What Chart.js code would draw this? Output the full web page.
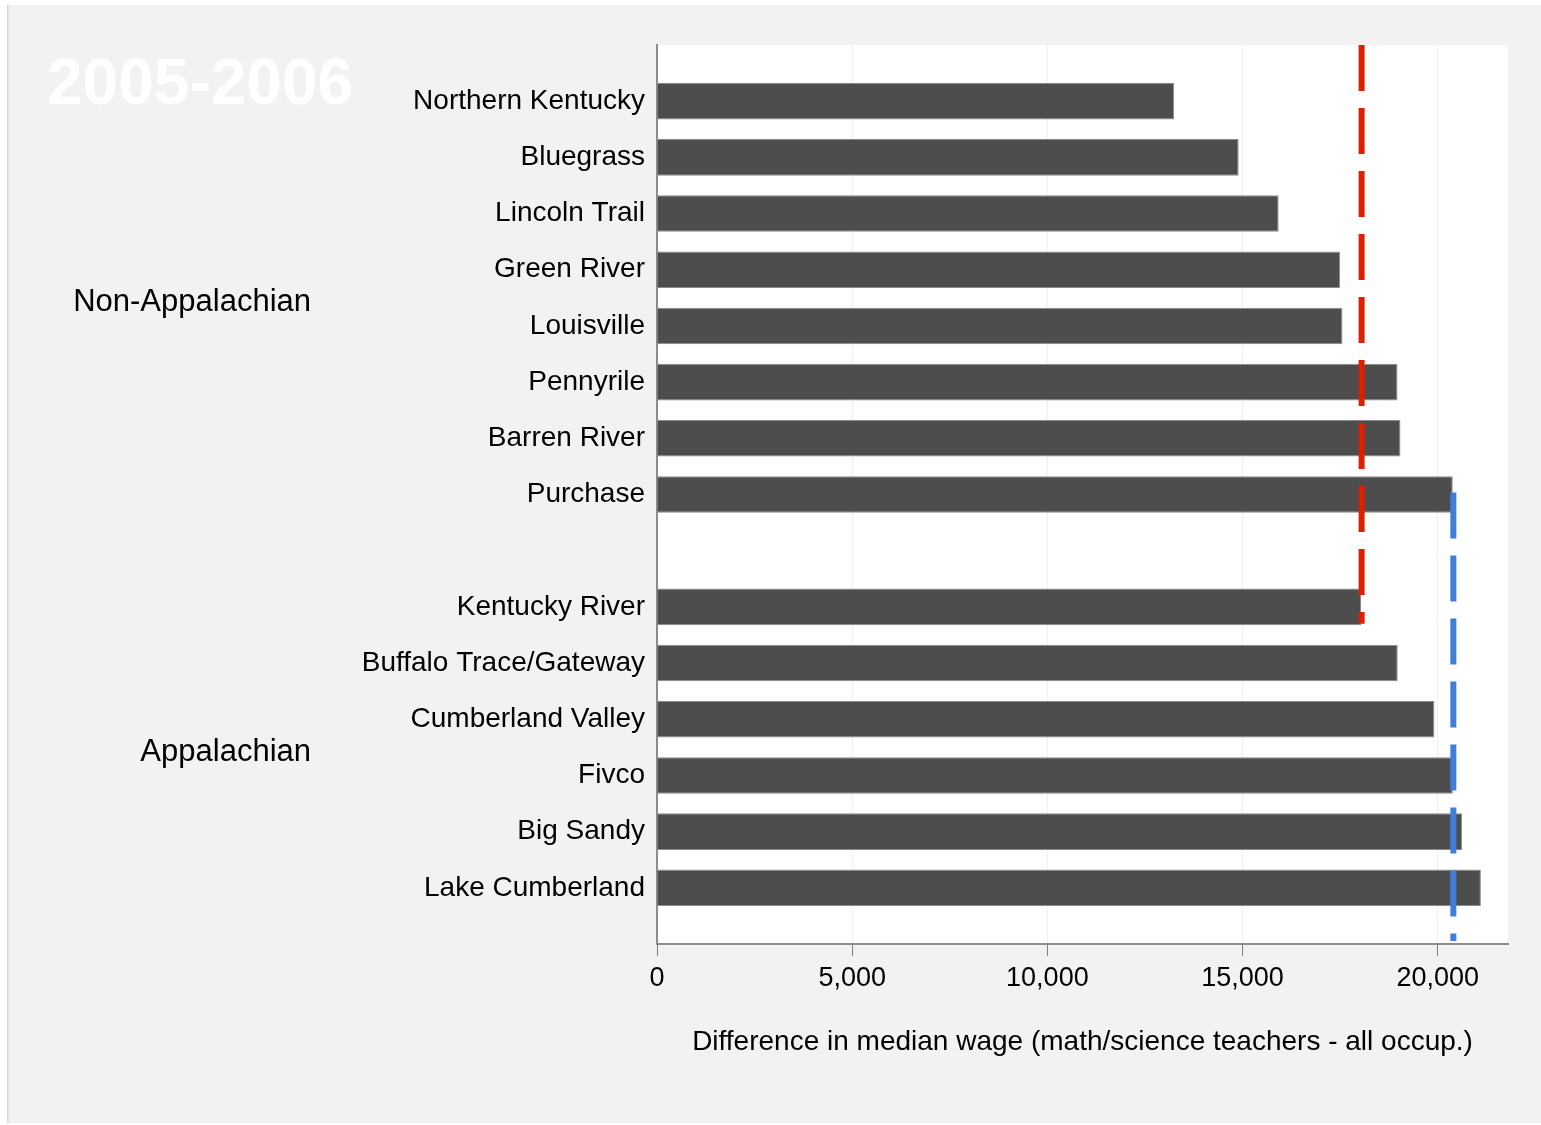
<!DOCTYPE html>
<html>
<head>
<meta charset="utf-8">
<style>
  html, body { margin: 0; padding: 0; background: #ffffff; }
  #wrap { width: 1541px; height: 1125px; }
</style>
<script src="https://cdn.jsdelivr.net/npm/chart.js@4.4.1/dist/chart.umd.min.js"></script>
</head>
<body>
<div id="wrap"><canvas id="myChart" width="1541" height="1125"></canvas></div>
<script>
// datos
const nonAppRegions = ['Northern Kentucky', 'Bluegrass', 'Lincoln Trail', 'Green River',
  'Louisville', 'Pennyrile', 'Barren River', 'Purchase'];
const nonAppWage = [13250, 14900, 15925, 17500, 17560, 18970, 19045, 20385];

const appRegions = ['Kentucky River', 'Buffalo Trace/Gateway', 'Cumberland Valley', 'Fivco',
  'Big Sandy', 'Lake Cumberland'];
const appWage = [18035, 18975, 19915, 20385, 20625, 21105];

const groupNames = ['Non-Appalachian', 'Appalachian'];
const yearLabel = '2005-2006';
const axisTitle = 'Difference in median wage (math/science teachers - all occup.)';
const xTicks = [0, 5000, 10000, 15000, 20000];

const nonAppLine = 18050;
const appLine = 20400;
const xMax = 21800;

// filas vacias arriba, entre grupos y abajo
const labels = ['', ...nonAppRegions, '', ...appRegions, ''];
const values = [null, ...nonAppWage, null, ...appWage, null];

const font = '"Liberation Sans", Arial, sans-serif';

const fondo = {
  id: 'fondo',
  beforeDraw(chart) {
    const {ctx, chartArea: a} = chart;
    ctx.save();
    ctx.fillStyle = '#ffffff';
    ctx.fillRect(0, 0, chart.width, chart.height);
    ctx.fillStyle = '#f2f2f2';
    ctx.fillRect(8, 5, chart.width - 8, chart.height - 7);
    ctx.fillStyle = '#d4d4d4';
    ctx.fillRect(7, 5, 1.5, chart.height - 7);
    ctx.fillStyle = '#ffffff';
    ctx.fillRect(a.left, a.top, a.right - a.left, a.bottom - a.top);
    ctx.restore();
  },
  afterDraw(chart) {
    const {ctx} = chart;
    const y = chart.scales.y;
    ctx.save();
    ctx.fillStyle = '#ffffff';
    ctx.font = 'bold 64px ' + font;
    ctx.textBaseline = 'middle';
    ctx.textAlign = 'left';
    ctx.fillText(yearLabel, 47, 86);

    ctx.fillStyle = '#000000';
    ctx.font = '31px ' + font;
    ctx.textAlign = 'right';
    const grupos = [nonAppRegions, appRegions];
    grupos.forEach((g, i) => {
      const top = y.getPixelForValue(labels.indexOf(g[0]));
      const bot = y.getPixelForValue(labels.indexOf(g[g.length - 1]));
      ctx.fillText(groupNames[i], 311, (top + bot) / 2 + 5);
    });
    ctx.restore();
  }
};

const lineas = {
  id: 'lineas',
  afterDatasetsDraw(chart) {
    const {ctx, chartArea: a} = chart;
    const x = chart.scales.x;
    const y = chart.scales.y;
    const slot = y.getPixelForValue(1) - y.getPixelForValue(0);
    const dibujar = (valor, y0, y1, color) => {
      const px = x.getPixelForValue(valor);
      ctx.save();
      ctx.strokeStyle = color;
      ctx.lineWidth = 6;
      ctx.setLineDash([46, 17]);
      ctx.beginPath();
      ctx.moveTo(px, y0);
      ctx.lineTo(px, y1);
      ctx.stroke();
      ctx.restore();
    };
    dibujar(nonAppLine, a.top, y.getPixelForValue(labels.indexOf(appRegions[0])) + slot * 0.3, '#dd2000');
    dibujar(appLine, y.getPixelForValue(labels.indexOf(nonAppRegions[nonAppRegions.length - 1])) - 2, a.bottom - 3, '#3f7fd8');
  }
};

const config = {
  type: 'bar',
  data: {
    labels,
    datasets: [{
      data: values,
      backgroundColor: '#4d4d4d',
      borderColor: '#8a8a8a',
      borderWidth: 1,
      barPercentage: 0.65,
      categoryPercentage: 1
    }]
  },
  options: {
    indexAxis: 'y',
    responsive: false,
    animation: false,
    layout: { padding: { top: 45, right: 33, left: 0, bottom: 0 } },
    plugins: { legend: { display: false }, tooltip: { enabled: false } },
    scales: {
      x: {
        min: 0,
        max: xMax,
        afterFit(s) { s.height = 181; },
        afterBuildTicks(s) { s.ticks = xTicks.map(v => ({value: v})); },
        grid: { color: '#efefef', tickColor: '#7f7f7f', tickLength: 12, lineWidth: 1 },
        border: { color: '#8c8c8c', width: 2 },
        ticks: {
          padding: 6,
          color: '#000000',
          font: { family: font, size: 27 },
          callback: (v) => Number(v).toLocaleString('en-US')
        },
        title: {
          display: true,
          text: axisTitle,
          color: '#000000',
          font: { family: font, size: 28 },
          padding: { top: 0, bottom: 66 }
        }
      },
      y: {
        offset: false,
        afterFit(s) { s.width = 657; },
        grid: { display: false, drawTicks: false },
        border: { color: '#8c8c8c', width: 2 },
        ticks: {
          autoSkip: false,
          padding: 12,
          color: '#000000',
          font: { family: font, size: 28 }
        }
      }
    }
  },
  plugins: [fondo, lineas]
};

new Chart(document.querySelector('#myChart'), config);
</script>
</body>
</html>
